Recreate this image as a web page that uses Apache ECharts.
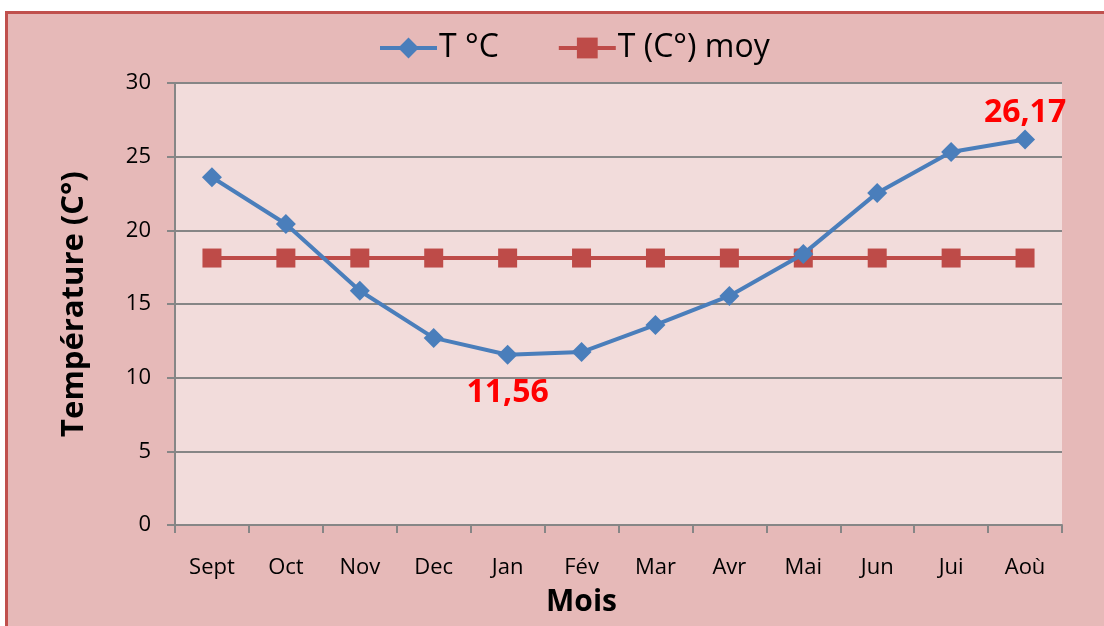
<!DOCTYPE html>
<html>
<head>
<meta charset="utf-8">
<script src="https://cdn.jsdelivr.net/npm/echarts@6/dist/echarts.min.js"></script>
<style>
  html, body { margin: 0; padding: 0; width: 1104px; height: 626px; overflow: hidden; background: #ffffff; }
  #frame { position: absolute; left: 5px; top: 11px; width: 1120px; height: 640px; background: #E6B9B8; border: 3px solid #C0504D; box-sizing: border-box; }
  #chart { position: absolute; left: 0; top: 0; width: 1104px; height: 626px; }
</style>
</head>
<body>
<div id="frame"></div>
<div id="chart"></div>
<script>
const months = ['Sept', 'Oct', 'Nov', 'Dec', 'Jan', 'Fév', 'Mar', 'Avr', 'Mai', 'Jun', 'Jui', 'Aoù'];
const tempValues = [23.6, 20.43, 15.9, 12.7, 11.56, 11.74, 13.58, 15.55, 18.4, 22.54, 25.32, 26.17];
const meanValues = [18.12, 18.12, 18.12, 18.12, 18.12, 18.12, 18.12, 18.12, 18.12, 18.12, 18.12, 18.12];
const seriesNames = ['T °C', 'T (C°) moy'];

const FONT = '"Open Sans"';
const minIdx = tempValues.indexOf(Math.min(...tempValues));
const maxIdx = tempValues.indexOf(Math.max(...tempValues));
const fmt = v => String(v).replace('.', ',');

const tempData = tempValues.map((v, i) => {
  if (i === minIdx) {
    return { value: v, label: { show: true, position: 'bottom', distance: 12, formatter: p => fmt(p.value) } };
  }
  if (i === maxIdx) {
    return { value: v, label: { show: true, position: 'top', distance: 1, formatter: p => fmt(p.value) } };
  }
  return v;
});

const chart = echarts.init(document.getElementById('chart'), null, { renderer: 'canvas' });
chart.setOption({
  backgroundColor: 'transparent',
  animation: false,
  textStyle: { fontFamily: FONT },
  legend: {
    top: 32,
    left: 378,
    padding: 0,
    itemWidth: 57,
    itemHeight: 26,
    itemGap: 58,
    lineStyle: { width: 4 },
    textStyle: { fontFamily: FONT, fontSize: 32, color: '#000', padding: [0, 0, 0, -3] },
    data: seriesNames
  },
  grid: {
    left: 175, top: 83, right: 42, bottom: 101,
    show: true, backgroundColor: '#F2DCDB', borderWidth: 0
  },
  xAxis: {
    type: 'category',
    data: months,
    boundaryGap: true,
    name: 'Mois',
    nameLocation: 'middle',
    nameGap: 62,
    nameTextStyle: { fontFamily: FONT, fontSize: 30, fontWeight: 'bold', color: '#000', padding: [0, 74, 0, 0] },
    axisLine: { lineStyle: { color: '#868686', width: 2 } },
    axisTick: { show: true, length: 8, alignWithLabel: false, lineStyle: { color: '#868686', width: 2 } },
    axisLabel: { fontFamily: FONT, fontSize: 22, color: '#000', margin: 32 },
    splitLine: { show: false }
  },
  yAxis: {
    type: 'value',
    min: 0, max: 30, interval: 5,
    name: 'Température (C°)',
    nameLocation: 'middle',
    nameGap: 85,
    nameTextStyle: { fontFamily: FONT, fontSize: 31, fontWeight: 'bold', color: '#000' },
    axisLine: { show: true, lineStyle: { color: '#868686', width: 2 } },
    axisTick: { show: true, length: 8, lineStyle: { color: '#868686', width: 2 } },
    axisLabel: { fontFamily: FONT, fontSize: 22, color: '#000', margin: 24 },
    splitLine: { show: true, lineStyle: { color: '#868686', width: 2 } }
  },
  series: [
    {
      name: seriesNames[0],
      type: 'line',
      data: tempData,
      symbol: 'diamond',
      symbolSize: 20,
      itemStyle: { color: '#4A7EBB' },
      lineStyle: { color: '#4A7EBB', width: 4 },
      label: { show: false, fontFamily: FONT, fontSize: 32, fontWeight: 'bold', color: '#FF0000' },
      z: 3
    },
    {
      name: seriesNames[1],
      type: 'line',
      data: meanValues,
      symbol: 'rect',
      symbolSize: 19,
      itemStyle: { color: '#BE4B48' },
      lineStyle: { color: '#BE4B48', width: 4 },
      z: 2
    }
  ]
});
</script>
</body>
</html>
